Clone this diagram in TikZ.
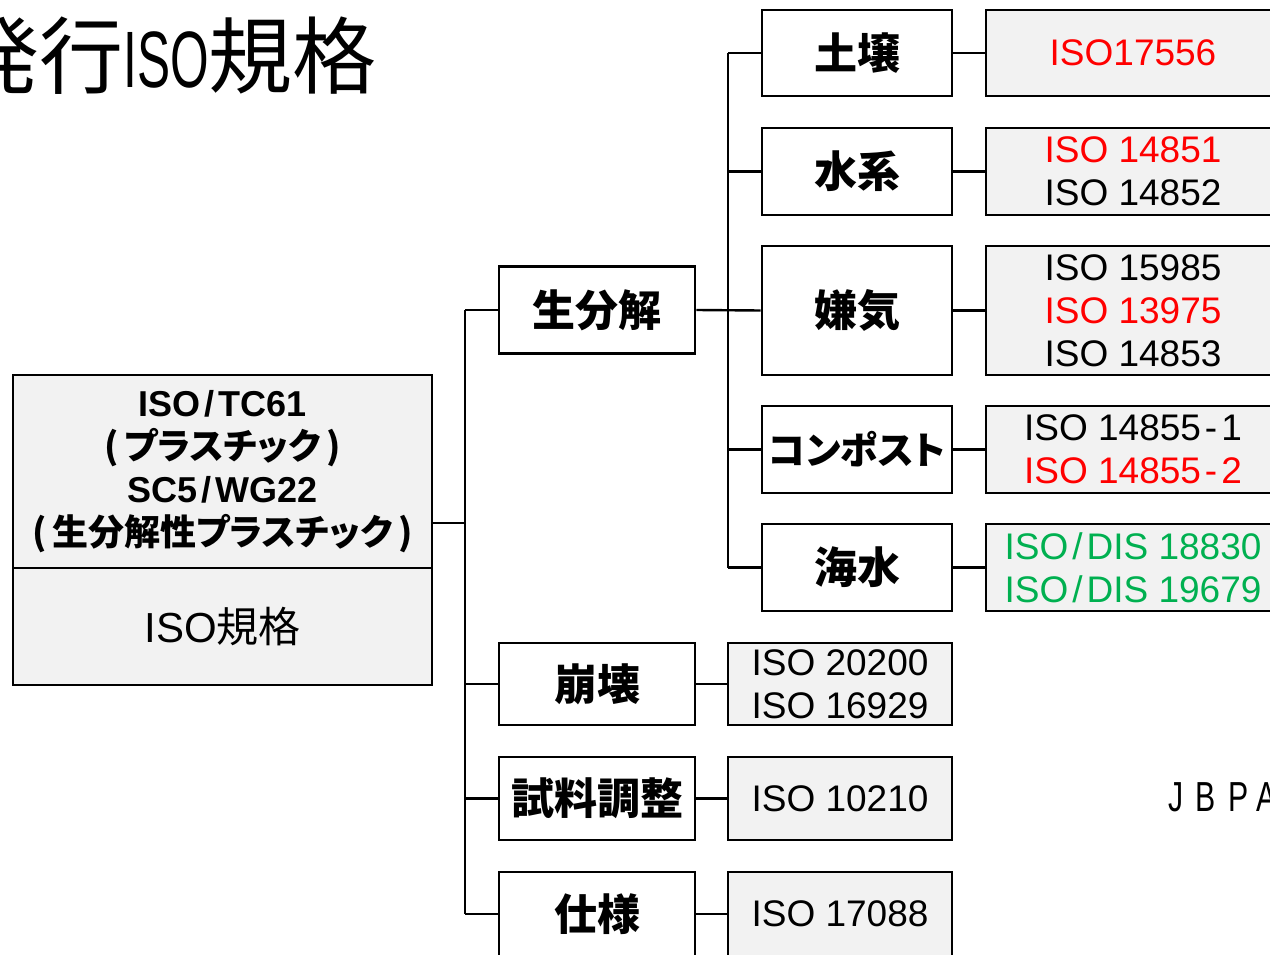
\documentclass[tikz,border=0pt]{standalone}
\usepackage{fontspec}
\usepackage{graphicx}
\setmainfont{Liberation Sans}
\newfontfamily\jp{Noto Sans CJK JP}
\newfontfamily\jpp[RawFeature=+palt]{Noto Sans CJK JP}
\usetikzlibrary{calc}
\definecolor{boxgray}{HTML}{F2F2F2}
\definecolor{isored}{HTML}{FF0000}
\definecolor{isogreen}{HTML}{00B050}
\newcommand{\slsh}{\kern4pt/\kern4pt}
\newcommand{\hyph}{\kern4pt-\kern4pt}
\newcommand{\nl}[1]{\scalebox{0.72}[1]{#1}}
\begin{document}
\begin{tikzpicture}[x=1pt,y=-1pt,line width=2.6pt,
  cat/.style={draw, fill=white, inner sep=0pt, minimum width=190pt, minimum height=87pt, font=\jp\bfseries\fontsize{43}{43}\selectfont},
  catm/.style={cat, minimum width=196pt},
  std/.style={draw, fill=boxgray, inner sep=0pt, align=center, minimum width=294pt, minimum height=87pt, font=\fontsize{37}{43}\selectfont},
  stdm/.style={std, minimum width=224pt},
  conn/.style={line width=2.4pt}]
\useasboundingbox (0,0) rectangle (1270,955);
\begin{scope}
\clip (0,0) rectangle (1270,955);
% title
\node[anchor=east, inner sep=0pt] (title) at (378,56) {\jp\fontsize{84}{84}\selectfont 発行{\fontspec{Liberation Sans}\fontsize{80}{80}\selectfont\scalebox{0.62}[1]{ISO}}規格};
% left box
\node[draw, fill=boxgray, inner sep=0pt, minimum width=419pt, minimum height=193pt, align=center, font=\bfseries\fontsize{36}{43}\selectfont] (tc) at (222.5,471.5)
  {ISO\slsh TC61\\{\jpp (\kern6pt プラスチック\kern6pt )}\\SC5\slsh WG22\\{\jpp (\kern6pt 生分解性プラスチック\kern6pt )}};
\node[draw, fill=boxgray, inner sep=0pt, minimum width=419pt, minimum height=117pt, font=\fontsize{42}{42}\selectfont] (isob) at (222.5,626.5) {ISO{\jp 規格}};
% level 2
\node[catm] (bio) at (597,310) {生分解};
\node[catm, minimum height=82pt] (col) at (597,684) {崩壊};
\node[catm, minimum height=83pt] (prep) at (597,798.5) {試料調整};
\node[catm, minimum height=84pt] (spec) at (597,914) {仕様};
% level 3
\node[cat, minimum height=86pt] (soil) at (857,53) {土壌};
\node[cat] (water) at (857,171.5) {水系};
\node[cat, minimum height=129pt] (anaer) at (857,310.5) {嫌気};
\node[cat] (comp) at (857,449.5) {\jpp\fontsize{38}{38}\selectfont コンポスト};
\node[cat] (sea) at (857,567.5) {海水};
% standards
\node[std, minimum height=86pt] (soilstd) at (1133,53) {\raisebox{-2pt}{\textcolor{isored}{ISO17556}}};
\node[std] (waterstd) at (1133,171.5) {\textcolor{isored}{ISO 14851}\\ISO 14852};
\node[std, minimum height=129pt] (anaerstd) at (1133,310.5) {ISO 15985\\\textcolor{isored}{ISO 13975}\\ISO 14853};
\node[std] (compstd) at (1133,449.5) {ISO 14855\hyph 1\\\textcolor{isored}{ISO 14855\hyph 2}};
\node[std, text=isogreen] (seastd) at (1133,567.5) {ISO\slsh DIS 18830\\ISO\slsh DIS 19679};
\node[stdm, minimum height=82pt] (colstd) at (840,684) {ISO 20200\\ISO 16929};
\node[stdm, minimum height=83pt] (prepstd) at (840,798.5) {ISO 10210};
\node[stdm, minimum height=84pt] (specstd) at (840,914) {ISO 17088};
% JBPA
\node[anchor=west, inner sep=0pt, font=\fontsize{42}{42}\selectfont] (jbpa) at (1167,797) {\makebox[27pt][l]{\nl{J}}\makebox[33pt][l]{\nl{B}}\makebox[28pt][l]{\nl{P}}\nl{A}};
% connectors
\coordinate (j0) at (465,523);
\coordinate (j1) at (728,311);
\draw[conn] (tc.east |- j0) -- (j0);
\draw[conn] (j0 |- bio.west) -- (j0 |- spec.west);
\foreach \n in {bio,col,prep,spec} \draw[conn] (j0 |- \n.west) -- (\n.west);
\draw[conn] (j1 |- soil.west) -- (j1 |- sea.west);
\draw[conn] (bio.east) -- (anaer.west);
\foreach \n in {soil,water,comp,sea} \draw[conn] (j1 |- \n.west) -- (\n.west);
\foreach \n in {soil,water,anaer,comp,sea,col,prep,spec} \draw[conn] (\n.east) -- (\n std.west);
\end{scope}
\end{tikzpicture}
\end{document}
